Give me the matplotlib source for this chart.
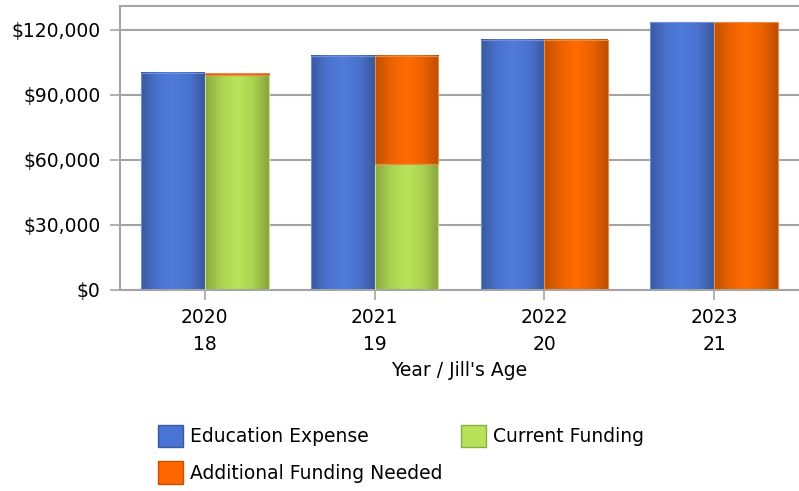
import numpy as np
import matplotlib
matplotlib.use('Agg')
import matplotlib.pyplot as plt
from matplotlib.colors import LinearSegmentedColormap
from matplotlib.patches import Patch
from matplotlib.ticker import FuncFormatter

years = ['2020', '2021', '2022', '2023']
ages = ['18', '19', '20', '21']
education_expense = [100300, 108100, 115400, 123500]
current_funding = [99400, 58100, 0, 0]
additional_needed = [900, 50000, 115400, 123500]

plt.rcParams['font.family'] = 'DejaVu Sans'
plt.rcParams['font.size'] = 13.5

fig = plt.figure(figsize=(7.99, 4.91), dpi=100)
ax = fig.add_axes([120 / 799, (491 - 290) / 491, 679 / 799, 284 / 491])

x = np.arange(len(years))
w = 0.375
grid_col = '#a4a4a4'


def shaded(cmap_colors):
    # dark edge -> light middle -> dark edge, like a rounded column
    return LinearSegmentedColormap.from_list('c', cmap_colors)


blue_cm = shaded(['#3a589f', '#4a73cf', '#4f7bdb', '#4a73cf', '#3a579d'])
green_cm = shaded(['#8ba83e', '#aad350', '#b9e45a', '#aad350', '#89a43c'])
orange_cm = shaded(['#c05000', '#ec6200', '#ff6c00', '#ec6200', '#bd4e00'])
ramp = np.linspace(0, 1, 200).reshape(1, -1)


def draw_bars(left, heights, bottoms, cmap, edge):
    bars = ax.bar(left, heights, width=w, bottom=bottoms, align='edge',
                  color='none', edgecolor=edge, linewidth=0.8, zorder=3)
    for b in bars:
        if b.get_height() <= 0:
            continue
        x0, y0 = b.get_x(), b.get_y()
        ax.imshow(ramp, cmap=cmap, aspect='auto', zorder=2.5,
                  extent=[x0, x0 + b.get_width(), y0, y0 + b.get_height()])


draw_bars(x - w, education_expense, 0, blue_cm, '#6f8fd8')
draw_bars(x, current_funding, 0, green_cm, '#c4e58a')
draw_bars(x, additional_needed, current_funding, orange_cm, '#e98a4a')

ax.set_xlim(-0.5, 3.5)
ax.set_ylim(0, 131000)
ax.set_yticks([0, 30000, 60000, 90000, 120000])
ax.yaxis.set_major_formatter(FuncFormatter(lambda v, p: '${:,.0f}'.format(v)))
ax.set_xticks(x)
ax.set_xticklabels([f'{y}\n{a}' for y, a in zip(years, ages)], linespacing=1.5)
ax.set_xlabel("Year / Jill's Age", labelpad=5)

ax.grid(axis='y', color=grid_col, linewidth=1.5, zorder=1)
ax.set_axisbelow(True)
for s in ['left', 'bottom', 'top']:
    ax.spines[s].set_color(grid_col)
    ax.spines[s].set_linewidth(1.5)
ax.spines['right'].set_visible(False)
ax.tick_params(axis='y', length=7, width=1.2, color=grid_col, pad=7)
ax.tick_params(axis='x', length=7, width=1.2, color=grid_col, pad=6)

handles = [
    Patch(facecolor='#4a74d4', edgecolor='#3a5aa0', label='Education Expense'),
    Patch(facecolor='#ff6600', edgecolor='#c85000', label='Additional Funding Needed'),
    Patch(facecolor='#b6e25a', edgecolor='#8aab40', label='Current Funding'),
]
fig.legend(handles=handles, ncol=2, loc='upper left',
           bbox_to_anchor=(158 / 799, 1 - 425 / 491), frameon=False,
           handlelength=1.35, handleheight=1.45, handletextpad=0.35,
           columnspacing=1.0, labelspacing=0.75, borderpad=0, borderaxespad=0)

fig.savefig('out.png', dpi=100)
